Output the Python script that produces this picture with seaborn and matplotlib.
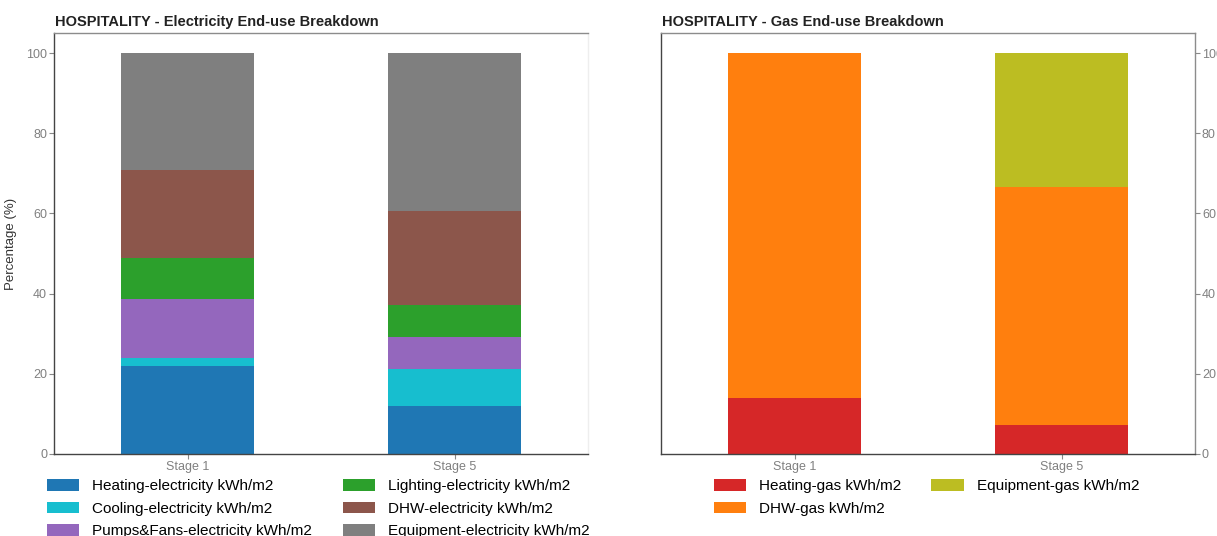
import matplotlib
matplotlib.use("Agg")
import matplotlib.pyplot as plt
from matplotlib.patches import Patch
import seaborn as sns
import numpy as np

stages = ["Stage 1", "Stage 5"]

# Electricity end-use shares (%)
elec_labels = [
    "Heating-electricity kWh/m2",
    "Cooling-electricity kWh/m2",
    "Pumps&Fans-electricity kWh/m2",
    "Lighting-electricity kWh/m2",
    "DHW-electricity kWh/m2",
    "Equipment-electricity kWh/m2",
]
elec_heating = [21.9, 12.0]
elec_cooling = [2.0, 9.1]
elec_pumps = [14.7, 8.1]
elec_lighting = [10.4, 8.0]
elec_dhw = [21.9, 23.3]
elec_equipment = [29.1, 39.5]
elec_colors = ["#1f77b4", "#17becf", "#9467bd", "#2ca02c", "#8c564b", "#7f7f7f"]

# Gas end-use shares (%)
gas_labels = ["Heating-gas kWh/m2", "DHW-gas kWh/m2", "Equipment-gas kWh/m2"]
gas_heating = [14.0, 7.2]
gas_dhw = [86.0, 59.4]
gas_equipment = [0.0, 33.4]
gas_colors = ["#d62728", "#ff7f0e", "#bcbd22"]

plt.rcParams["font.family"] = ["Liberation Sans", "DejaVu Sans"]

fig = plt.figure(figsize=(12.17, 5.36), dpi=100)
W, H = 1217, 536
ax_e = fig.add_axes([54 / W, (H - 454) / H, 534 / W, 421 / H])
ax_g = fig.add_axes([661 / W, (H - 454) / H, 534 / W, 421 / H])


def stacked(ax, series, colors):
    bottom = np.zeros(len(stages))
    for vals, col in zip(series, colors):
        sns.barplot(x=stages, y=vals, bottom=bottom, color=col, width=0.5,
                    linewidth=0, saturation=1, ax=ax, errorbar=None)
        bottom = bottom + np.asarray(vals)


stacked(ax_e, [elec_heating, elec_cooling, elec_pumps, elec_lighting,
               elec_dhw, elec_equipment], elec_colors)
stacked(ax_g, [gas_heating, gas_dhw, gas_equipment], gas_colors)

for ax in (ax_e, ax_g):
    ax.set_xlim(-0.5, 1.5)
    ax.set_ylim(0, 105)
    ax.set_yticks([0, 20, 40, 60, 80, 100])
    ax.set_xlabel("")
    ax.tick_params(axis="both", colors="#888888", labelcolor="#808080",
                   labelsize=9, length=3.5, width=0.8, pad=1.5)
    ax.spines["left"].set_color("#444444")
    ax.spines["bottom"].set_color("#444444")
    ax.spines["top"].set_color("#8c8c8c")
    for s in ax.spines.values():
        s.set_linewidth(1.0)

ax_e.spines["right"].set_color("#eeeeee")
ax_e.set_ylabel("Percentage (%)", fontsize=9.5, color="#333333")
ax_e.yaxis.set_label_coords(-0.069, 0.5)
ax_g.spines["right"].set_color("#8c8c8c")
ax_g.yaxis.tick_right()
ax_g.set_ylabel("")

ax_e.set_title("HOSPITALITY - Electricity End-use Breakdown", loc="left",
               fontsize=10.5, fontweight="bold", color="#222222", pad=5, x=0.002)
ax_g.set_title("HOSPITALITY - Gas End-use Breakdown", loc="left",
               fontsize=10.5, fontweight="bold", color="#222222", pad=5, x=0.002)

legend_style = dict(ncol=2, loc="upper left", frameon=False, fontsize=11,
                    handlelength=2.1, handleheight=0.8, handletextpad=0.85,
                    labelspacing=0.55, columnspacing=2.0, borderaxespad=0)

elec_handles = [Patch(facecolor=c, edgecolor="none") for c in elec_colors]
ax_e.legend(elec_handles, elec_labels, bbox_to_anchor=(-0.0245, -0.045),
            **legend_style)

gas_handles = [Patch(facecolor=c, edgecolor="none") for c in gas_colors]
ax_g.legend(gas_handles, gas_labels, bbox_to_anchor=(0.087, -0.045),
            **legend_style)

fig.savefig("out.png", dpi=100, facecolor="white")
